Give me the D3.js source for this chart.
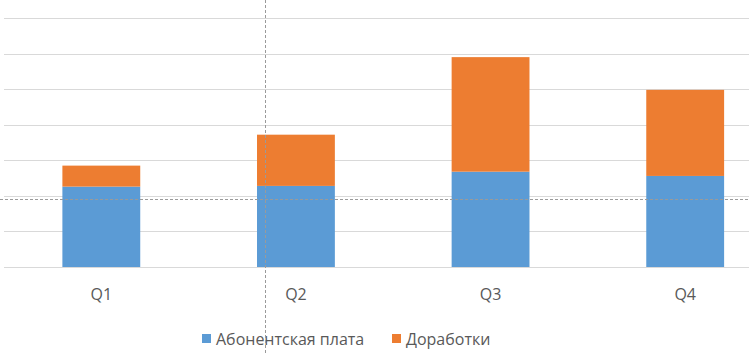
<!DOCTYPE html>
<html>
<head>
<meta charset="utf-8">
<script src="https://cdn.jsdelivr.net/npm/d3@7"></script>
<style>
  body { margin: 0; background: #fff; }
  text { font-family: "Open Sans", "Noto Sans", sans-serif; fill: #595959; }
</style>
</head>
<body>
<script type="text/javascript">
var w = 749;
var h = 354;

// data (values in units of one gridline = 100)
var quarters = ["Q1", "Q2", "Q3", "Q4"];
var subscription = [226, 228, 268, 256];   // Абонентская плата
var extraWork = [59, 144, 322, 242];       // Доработки
var seriesNames = ["Абонентская плата", "Доработки"];
var seriesColors = ["#5B9BD5", "#ED7D31"];
var gridTicks = [0, 100, 200, 300, 400, 500, 600, 700];

// scales
var Xscale = d3.scaleBand().domain(quarters).range([4, 782.5]).paddingInner(0.6).paddingOuter(0.3);
var Yscale = d3.scaleLinear().domain([0, 700]).range([267, 18]);

//CREATE MAIN SVG ELEMENT
const svg = d3.select("body").append("svg").attr("width", w).attr("height", h);

//GRIDLINES
svg.append("g").selectAll("line").data(gridTicks).enter().append("line")
  .attr("x1", 4).attr("x2", w)
  .attr("y1", d => Math.round(Yscale(d)) + 0.5).attr("y2", d => Math.round(Yscale(d)) + 0.5)
  .attr("stroke", "#D9D9D9").attr("stroke-width", 1);

//STACKED BARS
var rows = quarters.map((q, i) => ({ q: q, a: subscription[i], b: extraWork[i] }));
var stack = d3.stack().keys(["a", "b"])(rows);

svg.append("g").selectAll("g").data(stack).enter().append("g")
  .attr("fill", (d, i) => seriesColors[i])
  .selectAll("rect").data(d => d).enter().append("rect")
  .attr("x", d => Xscale(d.data.q))
  .attr("width", Xscale.bandwidth())
  .attr("y", d => Yscale(d[1]))
  .attr("height", d => Yscale(d[0]) - Yscale(d[1]));

//CATEGORY LABELS
var xAxis = svg.append("g").attr("transform", "translate(0,267)")
  .call(d3.axisBottom(Xscale).tickSize(0).tickPadding(22));
xAxis.select(".domain").remove();
xAxis.selectAll("text").style("font-size", "16px").attr("fill", "#595959")
  .style("font-family", "'Open Sans', 'Noto Sans', sans-serif");

//LEGEND
var legendX = [202, 392];
var legend = svg.append("g").selectAll("g").data(seriesNames).enter().append("g")
  .attr("transform", (d, i) => "translate(" + legendX[i] + ",339)");
legend.append("rect").attr("x", 0).attr("y", -5).attr("width", 9).attr("height", 9)
  .attr("fill", (d, i) => seriesColors[i]);
legend.append("text").attr("x", 14).attr("y", 0).attr("dy", "0.35em")
  .style("font-size", "16px").text(d => d);

//CROSSHAIR (dashed guide lines)
svg.append("line").attr("x1", 0).attr("x2", w).attr("y1", 199.5).attr("y2", 199.5)
  .attr("stroke", "#9A9A9A").attr("stroke-dasharray", "3,2");
svg.append("line").attr("x1", 265.5).attr("x2", 265.5).attr("y1", 0).attr("y2", h)
  .attr("stroke", "#9A9A9A").attr("stroke-dasharray", "3,2");
</script>
</body>
</html>
